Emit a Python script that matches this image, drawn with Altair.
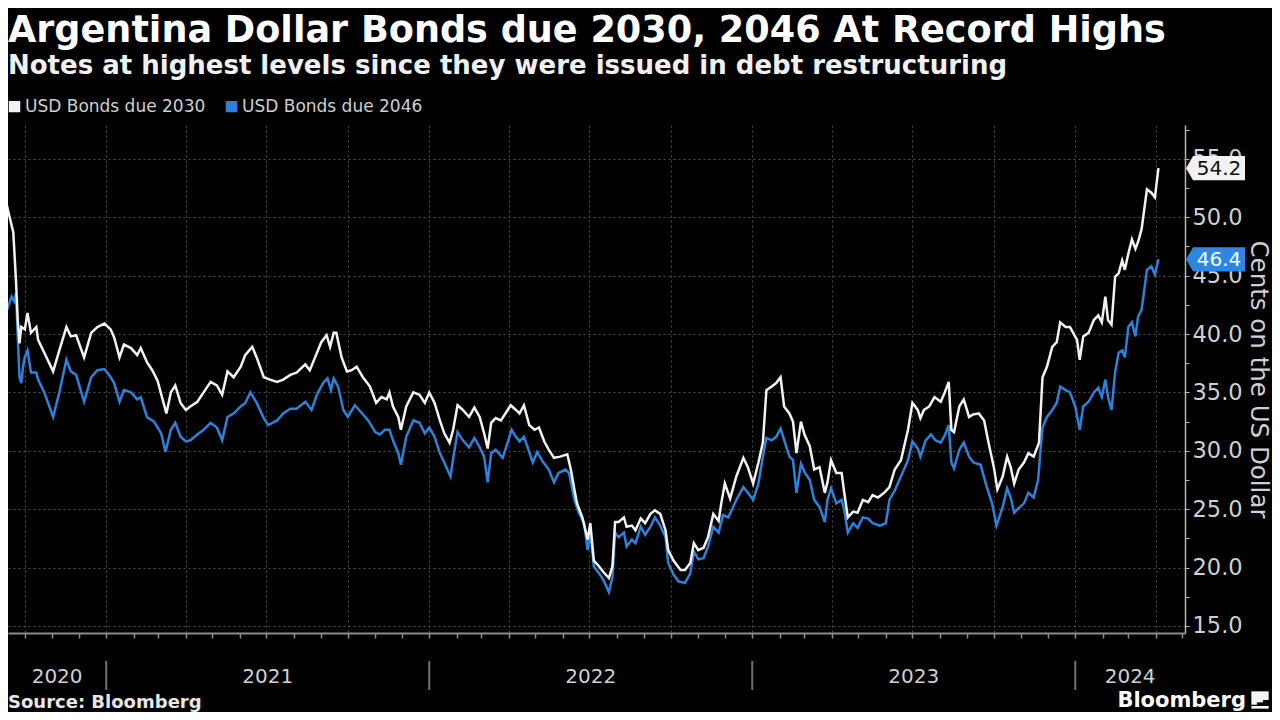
import altair as alt
import pandas as pd

TITLE = "Argentina Dollar Bonds due 2030, 2046 At Record Highs"
SUBTITLE = "Notes at highest levels since they were issued in debt restructuring"
SOURCE = "Source: Bloomberg"
BRAND = "Bloomberg"
AXIS_TITLE = "Cents on the US Dollar"
SERIES = ["USD Bonds due 2030", "USD Bonds due 2046"]
YEARS = ["2020", "2021", "2022", "2023", "2024"]
X_DOMAIN = ["2020-09-12", "2024-05-04"]
Y_DOMAIN = [14.4, 57.9]

W_DATES = [
    "2020-09-08", "2020-09-12", "2020-09-18", "2020-09-21", "2020-09-23", "2020-09-25", "2020-09-27",
    "2020-10-01", "2020-10-04", "2020-10-08", "2020-10-14", "2020-10-16", "2020-10-23", "2020-11-02",
    "2020-11-09", "2020-11-17", "2020-11-22", "2020-11-28", "2020-12-07", "2020-12-15", "2020-12-22",
    "2020-12-30", "2021-01-06", "2021-01-10", "2021-01-16", "2021-01-21", "2021-01-29", "2021-02-05",
    "2021-02-09", "2021-02-16", "2021-02-22", "2021-02-28", "2021-03-05", "2021-03-10", "2021-03-15",
    "2021-03-20", "2021-03-26", "2021-04-01", "2021-04-06", "2021-04-14", "2021-04-21", "2021-04-29",
    "2021-05-06", "2021-05-12", "2021-05-18", "2021-05-25", "2021-06-02", "2021-06-07", "2021-06-15",
    "2021-06-20", "2021-06-28", "2021-07-05", "2021-07-13", "2021-07-20", "2021-07-28", "2021-08-04",
    "2021-08-14", "2021-08-19", "2021-08-25", "2021-09-01", "2021-09-07", "2021-09-11", "2021-09-15",
    "2021-09-18", "2021-09-24", "2021-09-30", "2021-10-05", "2021-10-11", "2021-10-18", "2021-10-26",
    "2021-11-02", "2021-11-08", "2021-11-14", "2021-11-17", "2021-11-21", "2021-11-27", "2021-11-30",
    "2021-12-06", "2021-12-14", "2021-12-21", "2021-12-27", "2022-01-01", "2022-01-07", "2022-01-13",
    "2022-01-18", "2022-01-24", "2022-01-28", "2022-02-02", "2022-02-08", "2022-02-15", "2022-02-21",
    "2022-02-27", "2022-03-04", "2022-03-08", "2022-03-12", "2022-03-17", "2022-03-23", "2022-03-29",
    "2022-04-03", "2022-04-09", "2022-04-13", "2022-04-18", "2022-04-24", "2022-04-30", "2022-05-05",
    "2022-05-11", "2022-05-16", "2022-05-22", "2022-05-29", "2022-06-06", "2022-06-10", "2022-06-14",
    "2022-06-17", "2022-06-23", "2022-06-29", "2022-07-02", "2022-07-06", "2022-07-12", "2022-07-17",
    "2022-07-23", "2022-07-27", "2022-07-30", "2022-08-03", "2022-08-09", "2022-08-12", "2022-08-18",
    "2022-08-22", "2022-08-28", "2022-09-02", "2022-09-08", "2022-09-13", "2022-09-19", "2022-09-25",
    "2022-09-28", "2022-10-04", "2022-10-12", "2022-10-17", "2022-10-23", "2022-10-27", "2022-11-01",
    "2022-11-07", "2022-11-12", "2022-11-18", "2022-11-24", "2022-11-27", "2022-12-01", "2022-12-07",
    "2022-12-14", "2022-12-22", "2022-12-27", "2023-01-02", "2023-01-08", "2023-01-13", "2023-01-17",
    "2023-01-23", "2023-01-28", "2023-02-02", "2023-02-06", "2023-02-12", "2023-02-16", "2023-02-20",
    "2023-02-25", "2023-03-01", "2023-03-07", "2023-03-12", "2023-03-18", "2023-03-24", "2023-03-27",
    "2023-03-31", "2023-04-06", "2023-04-12", "2023-04-15", "2023-04-19", "2023-04-25", "2023-04-30",
    "2023-05-06", "2023-05-12", "2023-05-17", "2023-05-23", "2023-05-30", "2023-06-05", "2023-06-11",
    "2023-06-18", "2023-06-26", "2023-07-01", "2023-07-07", "2023-07-10", "2023-07-14", "2023-07-20",
    "2023-07-26", "2023-08-02", "2023-08-06", "2023-08-11", "2023-08-14", "2023-08-17", "2023-08-23",
    "2023-08-28", "2023-09-03", "2023-09-07", "2023-09-14", "2023-09-20", "2023-09-25", "2023-10-01",
    "2023-10-05", "2023-10-11", "2023-10-16", "2023-10-20", "2023-10-24", "2023-10-29", "2023-11-04",
    "2023-11-09", "2023-11-15", "2023-11-21", "2023-11-25", "2023-11-30", "2023-12-06", "2023-12-11",
    "2023-12-15", "2023-12-21", "2023-12-26", "2024-01-03", "2024-01-06", "2024-01-10", "2024-01-16",
    "2024-01-22", "2024-01-27", "2024-01-31", "2024-02-04", "2024-02-07", "2024-02-11", "2024-02-15",
    "2024-02-19", "2024-02-23", "2024-02-26", "2024-03-01", "2024-03-05", "2024-03-09", "2024-03-12",
    "2024-03-16", "2024-03-22", "2024-03-27", "2024-03-31", "2024-04-04",
]
W_VALUES = [
    51.9, 50.6, 48.7, 44.6, 41.2, 39.2, 40.6,
    40.4, 41.8, 40.1, 40.6, 39.5, 38.4, 36.8,
    38.6, 40.6, 39.8, 39.9, 38.0, 40.1, 40.6,
    40.9, 40.4, 39.7, 38.0, 39.1, 38.8, 38.2,
    38.8, 37.6, 36.9, 36.0, 34.6, 33.2, 35.0,
    35.6, 34.1, 33.5, 33.8, 34.2, 35.0, 35.9,
    35.6, 34.8, 36.8, 36.3, 37.2, 38.2, 38.9,
    38.0, 36.3, 36.1, 35.9, 36.1, 36.5, 36.7,
    37.4, 36.9, 38.0, 39.3, 39.9, 38.9, 40.1,
    40.1, 38.0, 36.8, 36.9, 37.2, 36.3, 35.5,
    34.1, 34.6, 34.4, 35.0, 33.8, 32.9, 31.8,
    33.8, 35.0, 34.8, 34.1, 35.0, 34.1, 32.6,
    31.5, 30.7, 31.8, 33.9, 33.5, 32.9, 33.7,
    32.9, 31.5, 30.2, 32.4, 32.8, 32.6, 33.3,
    33.9, 33.5, 33.2, 33.9, 32.2, 31.8, 32.0,
    30.8, 30.1, 29.4, 29.5, 29.7, 28.4, 26.7,
    25.5, 24.3, 22.4, 23.8, 20.6, 20.1, 19.6,
    19.1, 20.1, 23.9, 23.9, 24.3, 23.5, 23.6,
    23.2, 24.2, 23.8, 24.6, 24.9, 24.6, 23.2,
    21.5, 20.6, 19.8, 19.8, 20.4, 22.1, 21.5,
    21.7, 22.6, 24.6, 24.0, 25.5, 27.2, 25.9,
    27.8, 29.4, 28.6, 27.2, 29.0, 30.7, 35.2,
    35.5, 35.8, 36.3, 33.8, 33.2, 32.5, 29.8,
    32.5, 31.4, 30.4, 28.4, 28.6, 26.4, 27.3,
    29.2, 28.1, 28.1, 26.4, 24.3, 24.8, 24.7,
    25.8, 25.6, 26.2, 26.0, 26.4, 26.9, 28.4,
    29.2, 31.8, 34.1, 33.5, 32.8, 33.5, 33.8,
    34.6, 34.2, 34.9, 35.9, 31.8, 31.6, 33.8,
    34.4, 32.9, 33.1, 33.2, 32.6, 30.7, 28.6,
    26.7, 27.8, 29.5, 28.6, 27.2, 28.4, 29.0,
    29.8, 29.5, 30.7, 36.3, 37.2, 38.9, 39.3,
    41.0, 40.6, 40.6, 39.5, 37.8, 39.8, 40.1,
    41.2, 41.6, 41.0, 43.2, 41.2, 40.8, 44.9,
    45.2, 46.3, 45.5, 46.9, 48.1, 47.3, 47.9,
    49.0, 52.4, 52.1, 51.7, 54.2,
]

B_DATES = [
    "2020-09-08", "2020-09-12", "2020-09-16", "2020-09-19", "2020-09-21", "2020-09-23", "2020-09-25",
    "2020-09-27", "2020-09-29", "2020-10-01", "2020-10-04", "2020-10-08", "2020-10-14", "2020-10-16",
    "2020-10-23", "2020-11-02", "2020-11-09", "2020-11-17", "2020-11-22", "2020-11-28", "2020-12-07",
    "2020-12-15", "2020-12-22", "2020-12-30", "2021-01-06", "2021-01-10", "2021-01-16", "2021-01-21",
    "2021-01-29", "2021-02-05", "2021-02-09", "2021-02-16", "2021-02-24", "2021-03-04", "2021-03-09",
    "2021-03-15", "2021-03-20", "2021-03-26", "2021-04-01", "2021-04-06", "2021-04-14", "2021-04-21",
    "2021-04-29", "2021-05-06", "2021-05-12", "2021-05-18", "2021-05-25", "2021-06-02", "2021-06-07",
    "2021-06-13", "2021-06-20", "2021-06-28", "2021-07-03", "2021-07-13", "2021-07-20", "2021-07-28",
    "2021-08-04", "2021-08-14", "2021-08-21", "2021-08-27", "2021-09-03", "2021-09-08", "2021-09-12",
    "2021-09-15", "2021-09-20", "2021-09-26", "2021-10-01", "2021-10-09", "2021-10-16", "2021-10-24",
    "2021-11-01", "2021-11-06", "2021-11-12", "2021-11-17", "2021-11-21", "2021-11-27", "2021-11-30",
    "2021-12-06", "2021-12-14", "2021-12-21", "2021-12-27", "2022-01-01", "2022-01-07", "2022-01-13",
    "2022-01-18", "2022-01-25", "2022-01-29", "2022-02-02", "2022-02-08", "2022-02-15", "2022-02-21",
    "2022-02-27", "2022-03-04", "2022-03-08", "2022-03-12", "2022-03-17", "2022-03-25", "2022-03-31",
    "2022-04-04", "2022-04-09", "2022-04-13", "2022-04-18", "2022-04-24", "2022-04-28", "2022-05-03",
    "2022-05-09", "2022-05-16", "2022-05-22", "2022-05-27", "2022-06-04", "2022-06-08", "2022-06-14",
    "2022-06-19", "2022-06-25", "2022-06-29", "2022-07-02", "2022-07-06", "2022-07-12", "2022-07-17",
    "2022-07-23", "2022-07-27", "2022-07-30", "2022-08-03", "2022-08-09", "2022-08-12", "2022-08-18",
    "2022-08-22", "2022-08-28", "2022-09-02", "2022-09-08", "2022-09-13", "2022-09-19", "2022-09-25",
    "2022-09-28", "2022-10-04", "2022-10-10", "2022-10-17", "2022-10-23", "2022-10-27", "2022-11-01",
    "2022-11-07", "2022-11-12", "2022-11-18", "2022-11-24", "2022-11-29", "2022-12-05", "2022-12-14",
    "2022-12-22", "2022-12-27", "2023-01-02", "2023-01-08", "2023-01-13", "2023-01-17", "2023-01-23",
    "2023-01-28", "2023-02-02", "2023-02-07", "2023-02-12", "2023-02-16", "2023-02-20", "2023-02-25",
    "2023-03-01", "2023-03-07", "2023-03-12", "2023-03-18", "2023-03-24", "2023-03-27", "2023-03-31",
    "2023-04-06", "2023-04-12", "2023-04-15", "2023-04-19", "2023-04-25", "2023-04-30", "2023-05-06",
    "2023-05-12", "2023-05-17", "2023-05-25", "2023-06-01", "2023-06-05", "2023-06-11", "2023-06-18",
    "2023-06-26", "2023-07-01", "2023-07-07", "2023-07-10", "2023-07-16", "2023-07-22", "2023-07-27",
    "2023-08-02", "2023-08-07", "2023-08-11", "2023-08-14", "2023-08-17", "2023-08-23", "2023-08-28",
    "2023-09-03", "2023-09-08", "2023-09-16", "2023-09-23", "2023-09-29", "2023-10-04", "2023-10-11",
    "2023-10-16", "2023-10-20", "2023-10-24", "2023-10-29", "2023-11-04", "2023-11-09", "2023-11-15",
    "2023-11-20", "2023-11-23", "2023-11-25", "2023-11-30", "2023-12-06", "2023-12-11", "2023-12-15",
    "2023-12-21", "2023-12-26", "2024-01-01", "2024-01-06", "2024-01-10", "2024-01-16", "2024-01-22",
    "2024-01-27", "2024-01-31", "2024-02-04", "2024-02-07", "2024-02-11", "2024-02-15", "2024-02-19",
    "2024-02-23", "2024-02-26", "2024-03-01", "2024-03-05", "2024-03-09", "2024-03-12", "2024-03-16",
    "2024-03-22", "2024-03-27", "2024-03-31", "2024-04-04",
]
B_VALUES = [
    43.3, 42.3, 43.2, 42.8, 43.5, 39.8, 36.3,
    35.8, 37.2, 38.0, 38.6, 36.7, 36.7, 36.1,
    35.0, 32.9, 35.0, 37.8, 36.8, 36.5, 34.2,
    36.3, 36.9, 37.0, 36.3, 35.8, 34.2, 35.2,
    35.0, 34.4, 34.6, 32.9, 32.5, 31.5, 29.9,
    31.8, 32.4, 31.2, 30.8, 30.9, 31.4, 31.8,
    32.4, 32.0, 30.9, 32.9, 33.2, 33.8, 34.1,
    35.0, 34.1, 32.8, 32.2, 32.6, 33.2, 33.6,
    33.6, 34.2, 33.5, 34.8, 35.8, 36.2, 35.2,
    36.2, 35.5, 33.5, 32.9, 33.9, 33.3, 32.6,
    31.6, 31.4, 31.8, 31.8, 30.9, 29.8, 28.8,
    31.2, 32.6, 32.4, 31.5, 32.0, 31.2, 29.8,
    29.0, 27.8, 29.8, 31.6, 30.9, 30.3, 31.1,
    30.3, 29.5, 27.3, 29.8, 30.1, 29.4, 30.8,
    31.8, 31.2, 30.8, 31.2, 29.9, 29.0, 29.9,
    29.1, 28.4, 27.3, 28.1, 28.4, 28.1, 25.8,
    24.7, 23.8, 21.5, 23.0, 20.1, 19.5, 18.9,
    17.9, 19.2, 23.0, 22.6, 23.0, 21.8, 22.4,
    22.1, 23.5, 22.8, 23.5, 24.3, 23.6, 22.6,
    20.4, 19.4, 18.8, 18.7, 19.5, 21.4, 20.7,
    20.8, 21.8, 23.5, 23.0, 24.5, 24.3, 25.8,
    26.9, 26.4, 25.8, 27.2, 29.5, 31.1, 30.9,
    31.2, 31.9, 30.7, 29.5, 29.2, 26.4, 28.9,
    28.2, 27.5, 25.8, 25.2, 23.9, 25.8, 26.8,
    25.5, 25.8, 24.9, 23.0, 23.8, 23.4, 24.3,
    24.2, 23.8, 23.6, 23.8, 25.8, 26.6, 27.8,
    29.2, 30.8, 30.2, 29.5, 30.9, 31.4, 30.9,
    30.7, 31.4, 32.2, 29.0, 28.5, 30.1, 30.7,
    29.5, 29.0, 28.8, 26.9, 25.5, 23.6, 25.2,
    26.8, 26.0, 24.7, 25.1, 25.5, 26.4, 26.0,
    27.5, 30.3, 32.0, 32.9, 33.5, 34.1, 35.5,
    35.2, 35.0, 33.8, 31.8, 33.8, 34.2, 35.0,
    35.4, 34.6, 36.1, 34.6, 33.5, 36.7, 38.4,
    38.6, 38.0, 40.6, 41.0, 39.8, 41.5, 42.1,
    45.5, 45.8, 45.1, 46.4,
]

WHITE = "#f2f2f2"
BLUE = "#2f80d8"
BOX_BLUE = "#2e86e0"
GRID = "#4d4d4d"
TEXT = "#cfcfcf"
FONT = "DejaVu Sans"
W, H = 1177, 508

lines = pd.DataFrame({
    "date": W_DATES + B_DATES,
    "value": W_VALUES + B_VALUES,
    "series": [SERIES[0]] * len(W_DATES) + [SERIES[1]] * len(B_DATES),
})
last = pd.DataFrame({
    "series": SERIES,
    "value": [W_VALUES[-1], B_VALUES[-1]],
    "label": [f"{W_VALUES[-1]:.1f}", f"{B_VALUES[-1]:.1f}"],
})

def dt(s):
    t = pd.Timestamp(s)
    return alt.DateTime(year=t.year, month=t.month, date=t.day, utc=True)

d0, d1 = pd.Timestamp(X_DOMAIN[0]), pd.Timestamp(X_DOMAIN[1])
XS = alt.Scale(type="utc", domain=[dt(X_DOMAIN[0]), dt(X_DOMAIN[1])])
YS = alt.Scale(domain=Y_DOMAIN, nice=False, zero=False)

month_ticks = [dt(m) for m in pd.date_range("2020-10-01", X_DOMAIN[1], freq="MS")]
y_ticks = [15 + 2.5 * i for i in range(int((57.5 - 15) / 2.5) + 1)]

x_axis = alt.Axis(
    values=month_ticks, labels=False, title=None, orient="bottom",
    domainColor="#8c8c8c", domainWidth=2, tickColor="#8c8c8c", tickSize=5, tickWidth=1.5,
    grid=True, gridColor=GRID, gridDash=[2, 3], gridWidth=1,
    gridOpacity={"condition": {"test": "utcmonth(datum.value) % 3 == 0", "value": 1}, "value": 0},
)
y_axis = alt.Axis(
    values=y_ticks, orient="right", title=AXIS_TITLE,
    labelExpr="datum.value % 5 == 0 ? format(datum.value, '.1f') : ''",
    labelFont=FONT, labelFontSize=22.5, labelColor=TEXT, labelPadding=3,
    domainColor="#b5b5b5", domainWidth=1.5, tickColor="#b5b5b5", tickSize=4, tickWidth=1,
    grid=True, gridColor=GRID, gridDash=[2, 3], gridWidth=1,
    gridOpacity={"condition": {"test": "datum.value % 5 == 0", "value": 1}, "value": 0},
    titleFont=FONT, titleFontSize=24.5, titleFontWeight="normal", titleColor=TEXT,
    titleAngle=90, titleX=72, titleY=254, titleAlign="center", titleBaseline="middle",
)

def X(field):
    return alt.X(field, scale=XS, axis=x_axis)

def Y(field):
    return alt.Y(field, scale=YS, axis=y_axis)

color = alt.Color(
    "series:N",
    scale=alt.Scale(domain=SERIES, range=[WHITE, BLUE]),
    legend=alt.Legend(
        title=None, orient="none", legendX=-2, legendY=-27, direction="horizontal",
        symbolType="square", symbolSize=42, symbolStrokeWidth=5,
        labelFont=FONT, labelFontSize=17, labelColor=TEXT, labelOffset=2, labelLimit=400,
        columnPadding=12, padding=0,
    ),
)

base = alt.Chart(lines)
blue_line = base.transform_filter(alt.datum.series == SERIES[1]).mark_line(strokeWidth=2.5).encode(
    x=X("date:T"), y=Y("value:Q"), color=color,
)
white_line = base.transform_filter(alt.datum.series == SERIES[0]).mark_line(strokeWidth=2.5).encode(
    x=X("date:T"), y=Y("value:Q"), color=color,
)

BOX_SHAPE = "M-1,0 L-0.76,-0.41 L1,-0.41 L1,0.41 L-0.76,0.41 Z"
boxes = alt.Chart(last).mark_point(shape=BOX_SHAPE, filled=True, size=3481, opacity=1, strokeWidth=0).encode(
    x=alt.value(W + 30.5),
    y=Y("value:Q"),
    fill=alt.Fill("series:N", scale=alt.Scale(domain=SERIES, range=[WHITE, BOX_BLUE]), legend=None),
)
box_text = alt.Chart(last).mark_text(font=FONT, fontSize=20, align="center", baseline="middle", dy=1).encode(
    x=alt.value(W + 34),
    y=Y("value:Q"),
    text="label:N",
    color=alt.condition(alt.datum.series == SERIES[0], alt.value("#111111"), alt.value("#ffffff")),
)

# year labels centred in the visible part of each year, separators at year starts
mids, seps = [], []
for y in YEARS:
    a = max(d0, pd.Timestamp(f"{y}-01-01"))
    b = min(d1, pd.Timestamp(f"{int(y) + 1}-01-01"))
    mids.append((a + (b - a) / 2).strftime("%Y-%m-%dT%H:%M:%SZ"))
    if pd.Timestamp(f"{y}-01-01") > d0:
        seps.append(f"{y}-01-01")
years = pd.DataFrame({"year": YEARS, "mid": mids})
year_text = alt.Chart(years).mark_text(font=FONT, fontSize=20, color=TEXT, align="center", baseline="middle").encode(
    x=X("mid:T"), y=alt.value(552), text="year:N",
)
year_sep = alt.Chart(pd.DataFrame({"start": seps})).mark_rule(color="#707070", strokeWidth=2).encode(
    x=X("start:T"), y=alt.value(536), y2=alt.value(565),
)

def label(txt, x, y, size, color, weight="normal", align="left"):
    return alt.Chart(pd.DataFrame({"t": [txt]})).mark_text(
        font=FONT, fontSize=size, fontWeight=weight, color=color, align=align, baseline="alphabetic"
    ).encode(x=alt.value(x), y=alt.value(y), text="t:N")

title = label(TITLE, 0, -83, 36.6, "#ffffff", "bold")
subtitle = label(SUBTITLE, 0, -51, 26, "#f0f0f0", "bold")
source = label(SOURCE, 0, 583, 18, "#e6e6e6", "bold")
brand = label(BRAND, 1238, 582, 21, "#ffffff", "bold", "right")
icon = alt.Chart(pd.DataFrame({"t": [BRAND]})).mark_point(shape="square", filled=True, size=300, color="#f4f4f4", opacity=1).encode(
    x=alt.value(1252), y=alt.value(575),
)
icon_bars = label("▁▃▅", 1252, 579, 8, "#000000", "normal", "center")

chart = alt.layer(
    blue_line, white_line, year_sep, year_text, boxes, box_text,
    title, subtitle, source, brand, icon, icon_bars,
).properties(
    width=W, height=H, background="#000000",
    padding={"left": 0, "top": 117, "right": 87, "bottom": 79},
    autosize=alt.AutoSizeParams(type="none"),
).configure_view(strokeWidth=0)

chart.save("out.html", embed_options={"renderer": "svg", "actions": False})
